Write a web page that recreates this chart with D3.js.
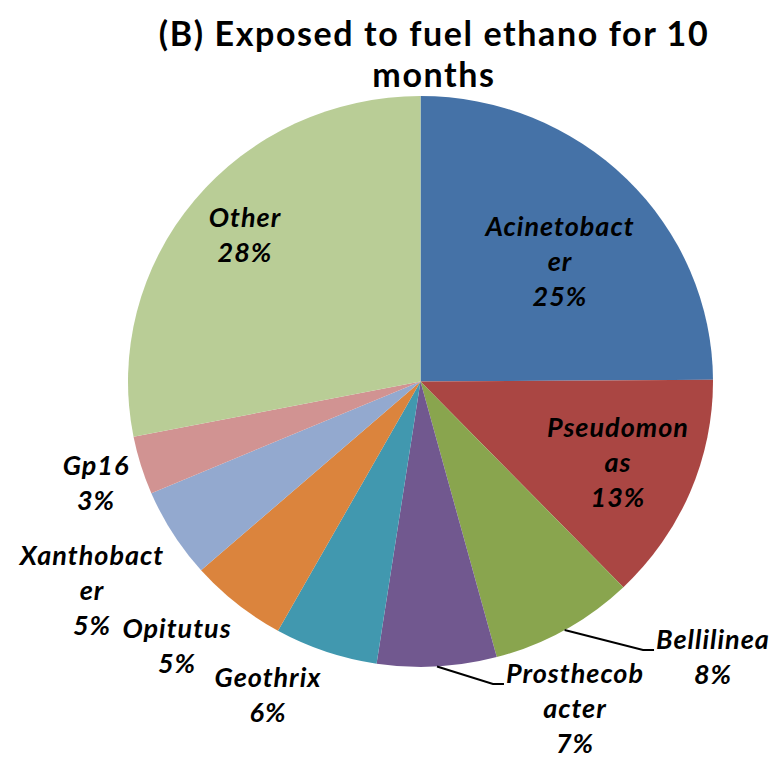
<!DOCTYPE html>
<html><head><meta charset="utf-8">
<script src="https://cdn.jsdelivr.net/npm/d3@7"></script>
<style>html,body{margin:0;padding:0;background:#fff;}</style>
</head><body>
<script>
const categories = ["Acinetobacter","Pseudomonas","Bellilinea","Prosthecobacter","Geothrix","Opitutus","Xanthobacter","Gp16","Other"];
const values = [24.9, 12.9, 8.0, 6.6, 5.7, 5.4, 5.1, 3.3, 28.1];
const colors = ["#4572A7","#AA4643","#89A54E","#71588F","#4198AF","#DB843D","#93A9CF","#D19392","#B9CD96"];
const labelLines = [["Acinetobact","er"],["Pseudomon","as"],["Bellilinea"],["Prosthecob","acter"],["Geothrix"],["Opitutus"],["Xanthobact","er"],["Gp16"],["Other"]];
const titleLines = ["(B) Exposed to fuel ethano for 10","months"];

// layout (label anchor points: centre x, first baseline y)
const labelPos = [[560,236],[618,437],[713,649],[575,683],[268,687],[177,638],[92,565],[96,475],[245,227]];
const leaderFor = {2:true, 3:true};

const W = 780, H = 760;
const cx = 420.5, cy = 381.5, ry = 285.5, rx = 292.5, sx = rx / ry;
const lineH = 35;

const svg = d3.select("body").append("svg").attr("width", W).attr("height", H);

const data = categories.map((c, i) => ({cat: c, value: values[i], color: colors[i], lines: labelLines[i], i}));
const pie = d3.pie().value(d => d.value).sort(null);
const arcs = pie(data);
const arc = d3.arc().innerRadius(0).outerRadius(ry);

const g = svg.append("g").attr("transform", `translate(${cx},${cy}) scale(${sx},1)`);
g.selectAll("path").data(arcs).join("path")
  .attr("d", arc).attr("fill", d => d.data.color);

// title
svg.append("g").selectAll("text").data(titleLines).join("text")
  .attr("x", 434).attr("y", (d, i) => 46 + i * 41)
  .attr("text-anchor", "middle")
  .attr("font-family", "Lato, 'Open Sans', sans-serif")
  .attr("font-weight", "bold").attr("font-size", 34)
  .attr("letter-spacing", 1.6)
  .attr("fill", "#000")
  .text(d => d);

// labels
const lab = svg.append("g").attr("font-family", "Lato, 'Open Sans', sans-serif")
  .attr("font-weight", "bold").attr("font-style", "italic").attr("font-size", 27)
  .attr("letter-spacing", 1).attr("fill", "#000");

arcs.forEach((a, k) => {
  const d = a.data;
  const [lx, ly] = labelPos[k];
  const all = d.lines.concat([Math.round(d.value) + "%"]);
  const t = lab.append("text").attr("text-anchor", "middle");
  all.forEach((s, j) => {
    t.append("tspan").attr("x", lx).attr("y", ly + j * lineH).text(s);
  });
  if (leaderFor[k]) {
    const first = t.select("tspan").node();
    const w = first.getComputedTextLength();
    const ang = (a.startAngle + a.endAngle) / 2;
    const x0 = cx + Math.sin(ang) * ry * sx;
    const y0 = cy - Math.cos(ang) * ry;
    const xe = lx - w / 2 - 2;
    const ye = ly + 1;
    svg.append("path")
      .attr("d", d3.line()([[x0, y0], [xe - 11, ye], [xe, ye]]))
      .attr("fill", "none").attr("stroke", "#000").attr("stroke-width", 2);
  }
});
</script>
</body></html>
